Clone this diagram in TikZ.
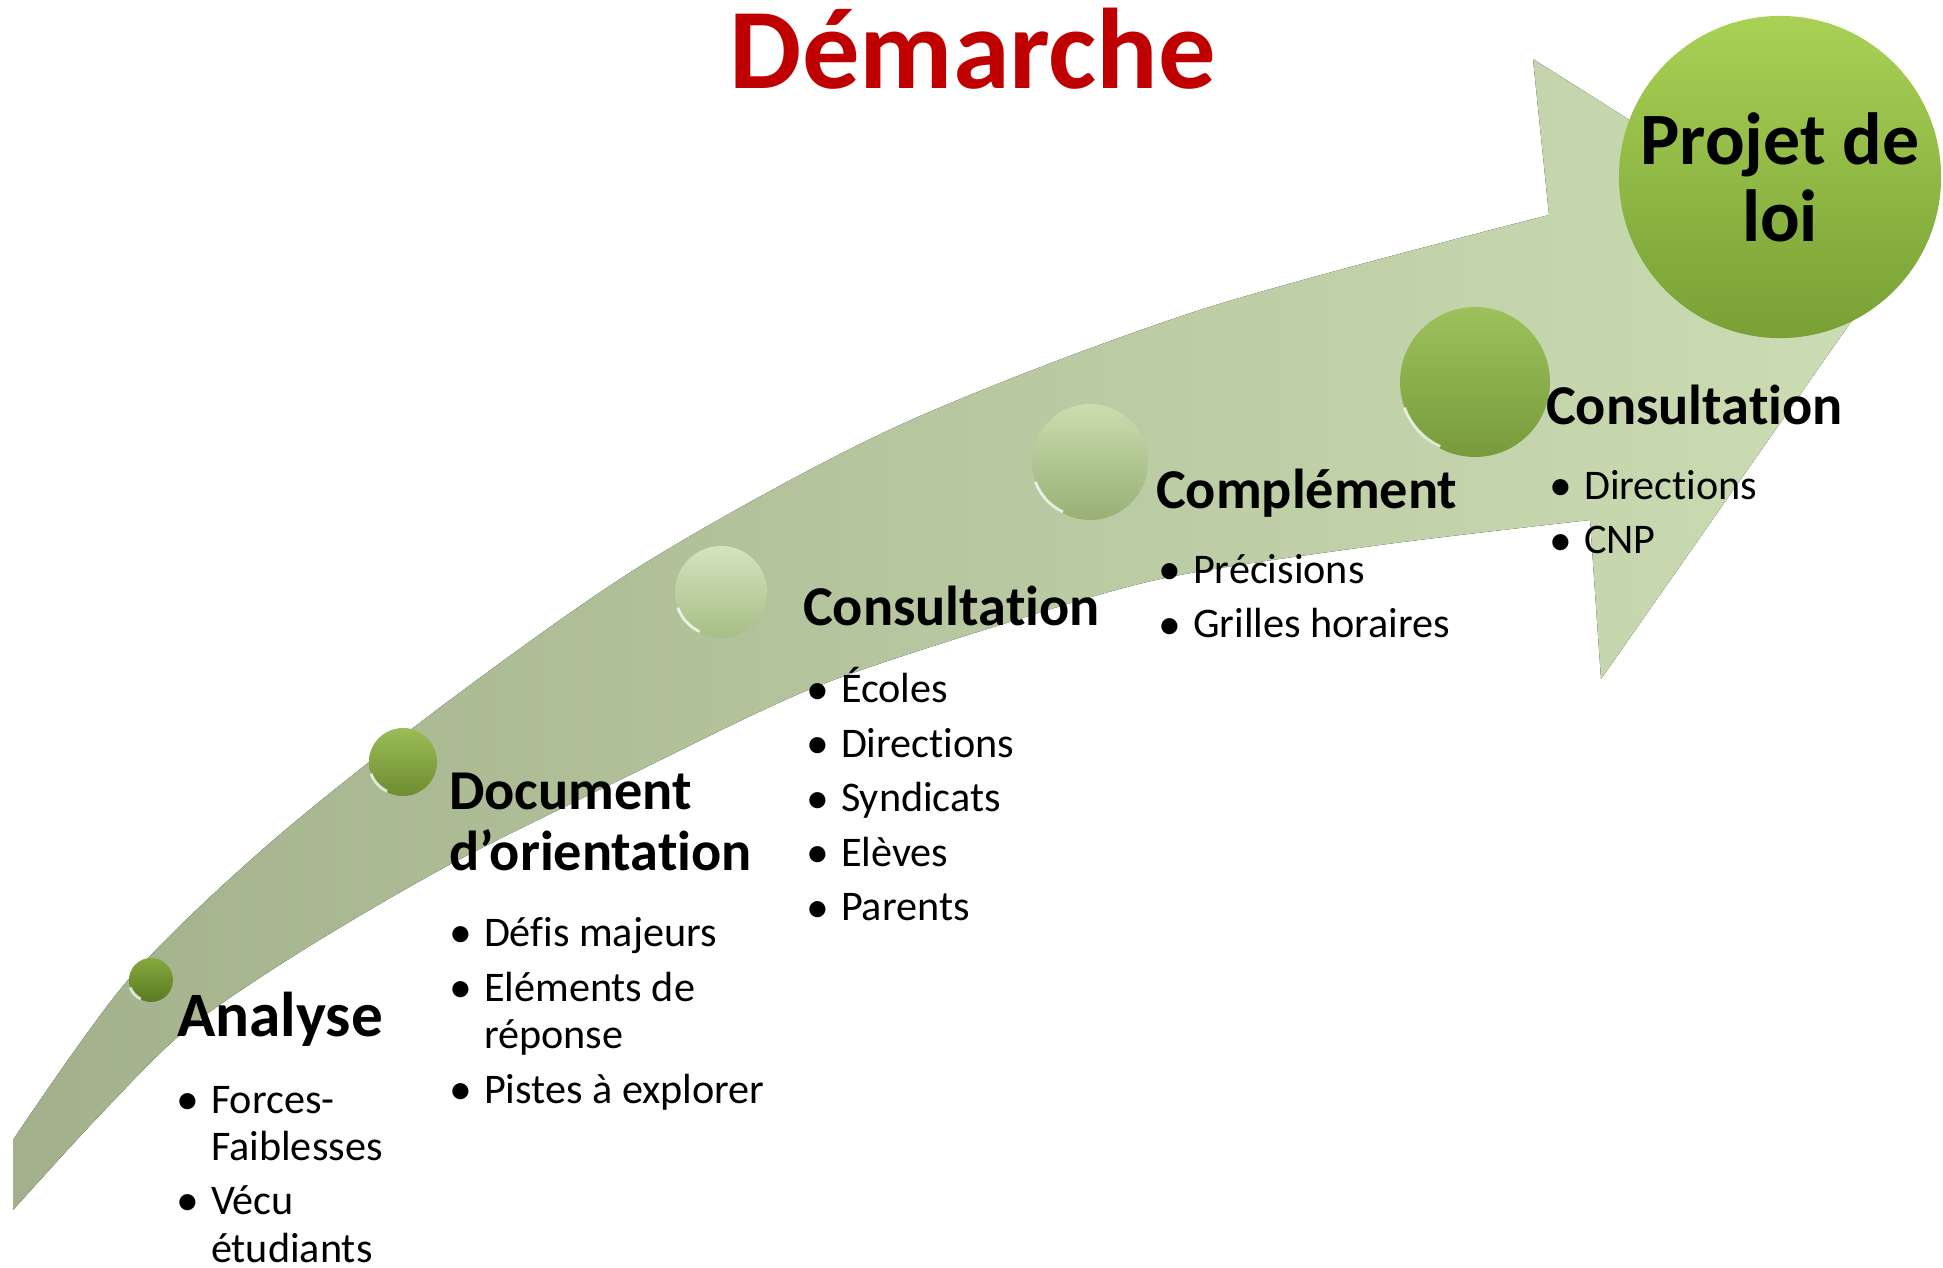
\documentclass[tikz,border=0pt]{standalone}
\usepackage{fontspec}
\setmainfont[Ligatures=NoCommon]{Carlito}
\definecolor{titlered}{HTML}{C00000}
\definecolor{shaftdark}{HTML}{A2B18B}
\definecolor{shaftlight}{HTML}{CCDDB4}
\newcommand{\bul}{\makebox[0.35cm][l]{\raisebox{-0.3pt}{\fontsize{13}{13}\selectfont\textbullet}}}
\newcommand{\ind}{\hspace*{0.35cm}}

\begin{document}
\begin{tikzpicture}[
    x=0.01cm, y=-0.01cm,
    every node/.style={inner sep=0pt, outer sep=0pt},
    heading/.style={anchor=base west, align=left, font=\fontsize{16}{17.6}\selectfont\bfseries},
    items/.style={anchor=base west, align=left, font=\fontsize{12}{13.4}\selectfont},
    bead/.style={circle, draw=none},
    glint/.style={white, line width=0.8pt, opacity=0.75}
  ]
  \useasboundingbox (0,0) rectangle (1943,1268);

  % the big arrow
  \fill[left color=shaftdark, right color=shaftlight]
    plot[smooth] coordinates {(13,1140) (128,980) (270,843) (450,700) (650,560)
      (900,425) (1200,310) (1549,215)}
    -- (1533,59) -- (1881,279) -- (1601,679)
    -- plot[smooth] coordinates {(1590,520) (1380,545) (1165,578) (1000,625)
      (813,688) (630,775) (449,865) (300,952) (186,1030) (100,1115) (13,1210)}
    -- cycle;

  % title
  \node[anchor=base, text=titlered, font=\fontsize{32.6}{36}\selectfont\bfseries]
    (title) at (973,89) {Démarche};

  % beads along the arrow
  \foreach \nm/\px/\py/\d/\ct/\cb in {
      b1/151/980/44/86A83E/5A7A22,
      b2/403/762/68/9CBC58/6E8C30,
      b3/721/592/92/D4E4BE/A7BE86,
      b4/1090/462/116/CADDB0/98B074,
      b5/1475/382/150/9DC25C/789A3C} {
    \definecolor{ct}{HTML}{\ct}
    \definecolor{cb}{HTML}{\cb}
    \node[bead, minimum size=\d*0.01cm, top color=ct, bottom color=cb]
      (\nm) at (\px,\py) {};
    \draw[glint] (\nm.200) arc[start angle=200, end angle=245, radius=\d*0.0046cm];
  }

  % final goal
  \definecolor{ct}{HTML}{A9D155}
  \definecolor{cb}{HTML}{78A035}
  \node[bead, minimum size=3.22cm, top color=ct, bottom color=cb, align=center,
    font=\fontsize{21}{21.9}\selectfont\bfseries] (projet) at (1780,177) {Projet de\\loi};

  % steps (multi-line nodes sit on their last baseline)
  \node[heading, font=\fontsize{18}{20}\selectfont\bfseries] (analyse) at (177,1036) {Analyse};
  \node[items] (analyseItems) at (176,1262)
    {\bul Forces-\\\ind Faiblesses\\[2.1pt]\bul Vécu\\\ind étudiants};

  \node[heading] (document) at (449,871) {Document\\d’orientation};
  \node[items] (documentItems) at (449,1103)
    {\bul Défis majeurs\\[2.1pt]\bul Eléments de\\\ind réponse\\[2.1pt]\bul Pistes à explorer};

  \node[heading] (consultA) at (803,626) {Consultation};
  \node[items] (consultAItems) at (806,921)
    {\bul Écoles\\[2.1pt]\bul Directions\\[2.1pt]\bul Syndicats\\[2.1pt]\bul Elèves\\[2.1pt]\bul Parents};

  \node[heading] (complement) at (1156,509) {Complément};
  \node[items] (complementItems) at (1158,638)
    {\bul Précisions\\[2.1pt]\bul Grilles horaires};

  \node[heading] (consultB) at (1546,425) {Consultation};
  \node[items] (consultBItems) at (1549,554)
    {\bul Directions\\[2.1pt]\bul CNP};
\end{tikzpicture}
\end{document}
